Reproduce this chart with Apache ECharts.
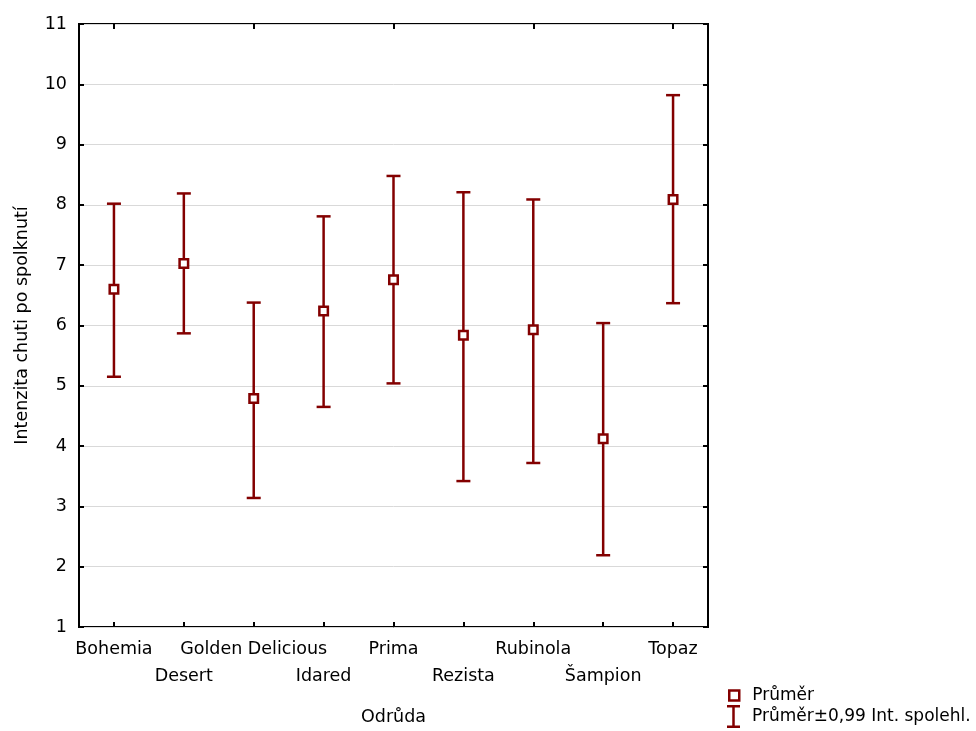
<!DOCTYPE html>
<html>
<head>
<meta charset="utf-8">
<script src="https://cdn.jsdelivr.net/npm/echarts@6/dist/echarts.min.js"></script>
<style>
html,body{margin:0;padding:0;background:#fff;overflow:hidden;width:976px;height:731px;}
#chart{width:976px;height:731px;overflow:hidden;}
</style>
</head>
<body>
<div id="chart"></div>
<script>
const categories = ['Bohemia', 'Desert', 'Golden Delicious', 'Idared', 'Prima', 'Rezista', 'Rubinola', 'Šampion', 'Topaz'];
const means = [6.60, 7.03, 4.79, 6.24, 6.76, 5.84, 5.93, 4.12, 8.09];
const lower = [5.15, 5.87, 3.14, 4.65, 5.04, 3.42, 3.72, 2.19, 6.37];
const upper = [8.02, 8.19, 6.38, 7.81, 8.48, 8.21, 8.09, 6.04, 9.82];
const yTicks = [1, 2, 3, 4, 5, 6, 7, 8, 9, 10, 11];

const meanName = 'Průměr';
const ciName = 'Průměr±0,99 Int. spolehl.';
const dark = '#830000';
const FONT = 'DejaVu Sans';
const FS = 17.5;
const LFS = 17;

const chart = echarts.init(document.getElementById('chart'));

const errData = categories.map((c, i) => [i, lower[i], upper[i]]);

const tickStyle = { show: true, inside: true, length: 5, lineStyle: { color: '#000', width: 2 } };

chart.setOption({
  animation: false,
  backgroundColor: '#fff',
  textStyle: { fontFamily: FONT },
  grid: { left: 79, right: 268, top: 24, bottom: 101, show: true, borderColor: '#000', borderWidth: 2, backgroundColor: 'transparent' },
  legend: [
    {
      data: [meanName],
      left: 728, top: 687,
      itemWidth: 10, itemHeight: 10,
      icon: 'rect',
      itemStyle: { color: '#fff', borderColor: dark, borderWidth: 2.5 },
      textStyle: { fontFamily: FONT, fontSize: LFS, color: '#000', padding: [0, 0, 0, 8] },
      padding: 0
    },
    {
      data: [ciName],
      left: 727, top: 705,
      itemWidth: 13, itemHeight: 23,
      icon: 'path://M0,0h13v2.5h-5.25v18h5.25v2.5h-13v-2.5h5.25v-18h-5.25z',
      itemStyle: { color: dark, borderWidth: 0 },
      textStyle: { fontFamily: FONT, fontSize: LFS, color: '#000', padding: [0, 0, 0, 7] },
      padding: 0
    }
  ],
  xAxis: [
    {
      type: 'category',
      data: categories,
      position: 'bottom',
      boundaryGap: true,
      name: 'Odrůda',
      nameLocation: 'middle',
      nameGap: 81,
      nameTextStyle: { fontFamily: FONT, fontSize: FS, color: '#000' },
      axisLine: { show: false },
      axisTick: Object.assign({ alignWithLabel: true }, tickStyle),
      axisLabel: {
        interval: 0,
        margin: 9,
        fontFamily: FONT, fontSize: FS, color: '#000',
        lineHeight: 27,
        verticalAlign: 'top',
        formatter: (v, i) => (i % 2 === 1 ? '\n' + v : v)
      },
      splitLine: { show: false }
    },
    {
      type: 'category',
      data: categories,
      position: 'top',
      boundaryGap: true,
      axisLine: { show: false },
      axisTick: Object.assign({ alignWithLabel: true }, tickStyle),
      axisLabel: { show: false },
      splitLine: { show: false }
    }
  ],
  yAxis: [
    {
      type: 'value',
      min: yTicks[0], max: yTicks[yTicks.length - 1], interval: 1,
      position: 'left',
      name: 'Intenzita chuti po spolknutí',
      nameLocation: 'middle',
      nameGap: 48,
      nameTextStyle: { fontFamily: FONT, fontSize: FS, color: '#000' },
      axisLine: { show: false },
      axisTick: tickStyle,
      axisLabel: { margin: 12, fontFamily: FONT, fontSize: FS, color: '#000' },
      splitLine: { show: true, lineStyle: { color: '#d9d9d9', width: 1 } }
    },
    {
      type: 'value',
      min: yTicks[0], max: yTicks[yTicks.length - 1], interval: 1,
      position: 'right',
      axisLine: { show: false },
      axisTick: tickStyle,
      axisLabel: { show: false },
      splitLine: { show: false }
    }
  ],
  series: [
    {
      name: ciName,
      type: 'custom',
      xAxisIndex: 0, yAxisIndex: 0,
      itemStyle: { color: dark },
      data: errData,
      z: 2,
      renderItem: function (params, api) {
        const x = api.value(0);
        const lo = api.coord([x, api.value(1)]);
        const hi = api.coord([x, api.value(2)]);
        const hw = 7;
        const style = { stroke: dark, lineWidth: 2.5, fill: null };
        return {
          type: 'group',
          children: [
            { type: 'line', shape: { x1: lo[0], y1: lo[1], x2: hi[0], y2: hi[1] }, style: style },
            { type: 'line', shape: { x1: hi[0] - hw, y1: hi[1], x2: hi[0] + hw, y2: hi[1] }, style: style },
            { type: 'line', shape: { x1: lo[0] - hw, y1: lo[1], x2: lo[0] + hw, y2: lo[1] }, style: style }
          ]
        };
      }
    },
    {
      name: meanName,
      type: 'scatter',
      xAxisIndex: 0, yAxisIndex: 0,
      symbol: 'rect',
      symbolSize: 8.5,
      itemStyle: { color: '#fff', borderColor: dark, borderWidth: 2.5, opacity: 1 },
      data: means,
      z: 3
    }
  ]
});
</script>
</body>
</html>
